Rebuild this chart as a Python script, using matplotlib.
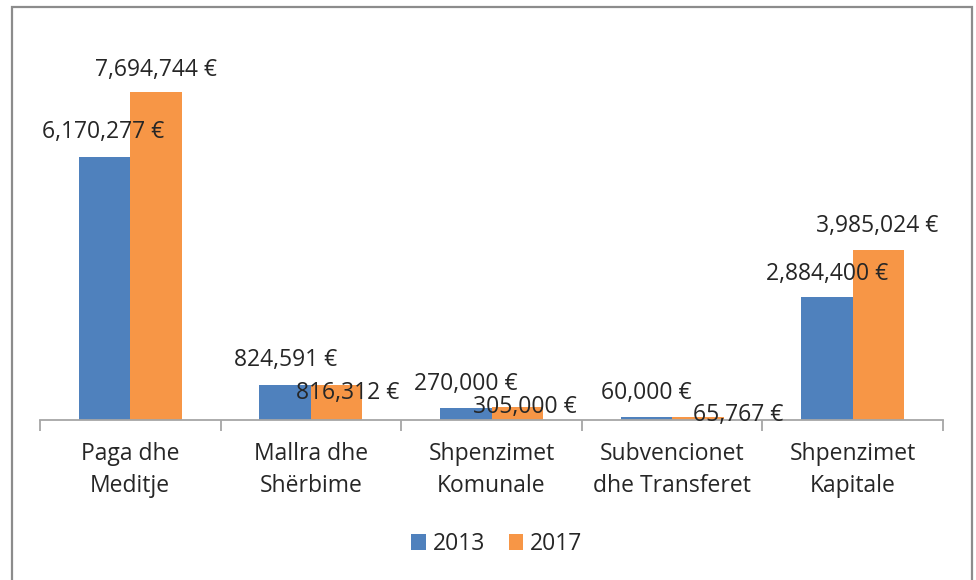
import numpy as np
import matplotlib
matplotlib.use("Agg")
import matplotlib.pyplot as plt
from matplotlib.patches import Rectangle

plt.rcParams["font.family"] = ["Open Sans", "DejaVu Sans"]

categories = ["Paga dhe\nMeditje", "Mallra dhe\nShërbime", "Shpenzimet\nKomunale",
              "Subvencionet\ndhe Transferet", "Shpenzimet\nKapitale"]
years = ["2013", "2017"]
values_2013 = [6170277, 824591, 270000, 60000, 2884400]
values_2017 = [7694744, 816312, 305000, 65767, 3985024]

# label nudges in pixels (dx, dy of baseline from bar top), hand-placed like the original
nudge_2013 = [(-1, 19), (0, 19), (0, 18), (0, 18), (0, 17)]
nudge_2017 = [(0, 16), (11, -14), (8, -6), (40, -4), (-1, 18)]

BLUE = "#4F81BD"
ORANGE = "#F79646"
AXIS = "#A6A6A6"
TEXT = "#262626"
FS = 16.5

fig = plt.figure(figsize=(9.76, 5.8), dpi=100)
W, H = 976, 580
ax = fig.add_axes([40 / W, 1 - 420 / H, (943 - 40) / W, (420 - 36) / H])

x = np.arange(len(categories))
bw = 0.285
b1 = ax.bar(x - bw / 2, values_2013, bw, color=BLUE, label=years[0])
b2 = ax.bar(x + bw / 2, values_2017, bw, color=ORANGE, label=years[1])

def euro(v):
    return f"{v:,} €"

for bars, vals, nudges in [(b1, values_2013, nudge_2013), (b2, values_2017, nudge_2017)]:
    for rect, v, (dx, dy) in zip(bars, vals, nudges):
        ax.annotate(euro(v), (rect.get_x() + rect.get_width() / 2, v),
                    xytext=(dx, dy), textcoords="offset pixels",
                    ha="center", va="baseline", fontsize=FS, color=TEXT,
                    annotation_clip=False)

ax.set_xlim(-0.5, len(categories) - 0.5)
ax.set_ylim(0, 9000000)
ax.set_yticks([])
for side in ["left", "right", "top"]:
    ax.spines[side].set_visible(False)
ax.spines["bottom"].set_color(AXIS)
ax.spines["bottom"].set_linewidth(1.3)

ax.set_xticks(x)
ax.set_xticklabels(categories, fontsize=FS, color=TEXT, linespacing=1.45)
ax.tick_params(axis="x", which="major", length=0, pad=16)
ax.set_xticks(np.arange(len(categories) + 1) - 0.5, minor=True)
ax.tick_params(axis="x", which="minor", length=8, width=1.3, color=AXIS, direction="out")

fig.legend(handles=[b1, b2], labels=years, loc="center", bbox_to_anchor=(497 / W, 1 - 544 / H),
           ncol=2, frameon=False, fontsize=FS, handlelength=0.65, handleheight=0.65,
           handletextpad=0.3, columnspacing=1.0, labelcolor=TEXT)

# chart frame (bottom edge falls outside the picture)
frame = Rectangle((12 / W, -0.05), (972 - 12) / W, 1.05 - 7 / H, transform=fig.transFigure,
                  fill=False, edgecolor="#8C8C8C", linewidth=1.6, clip_on=False)
fig.patches.append(frame)

fig.savefig("out.png", dpi=100)
